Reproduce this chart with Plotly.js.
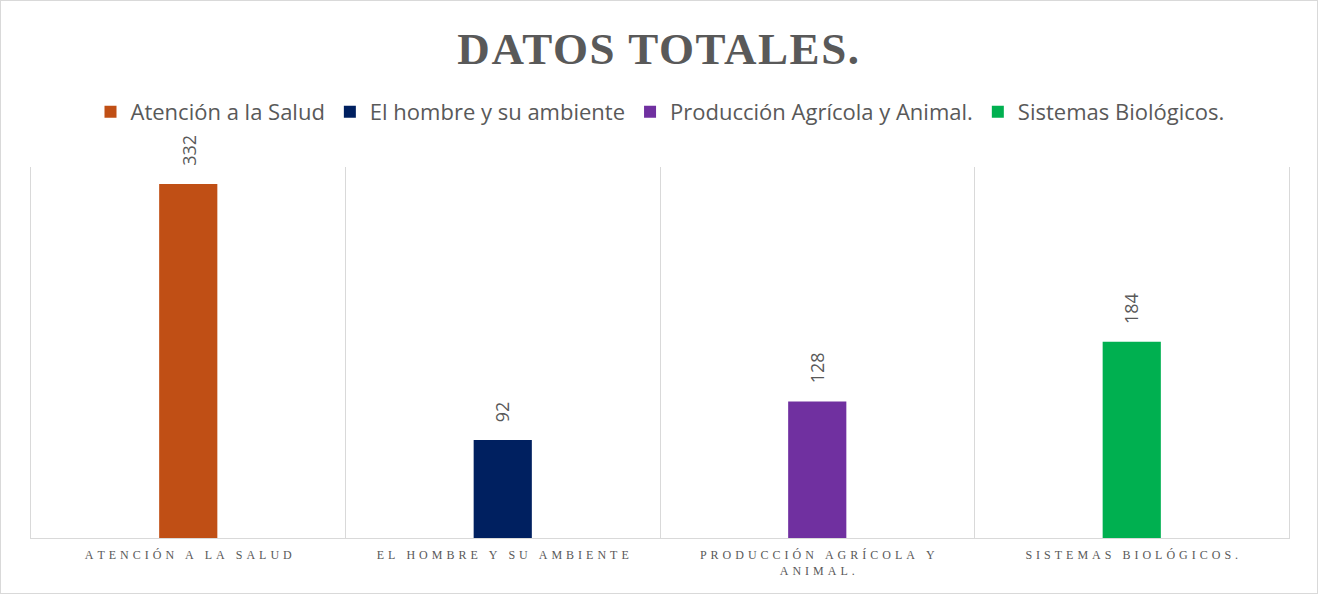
<!DOCTYPE html>
<html>
<head>
<meta charset="utf-8">
<script src="https://cdn.plot.ly/plotly-3.0.1.min.js"></script>
<style>
  html, body { margin: 0; padding: 0; background: #ffffff; }
  #wrap { position: relative; width: 1318px; height: 594px; }
  #chart { position: absolute; left: 0; top: 0; width: 1318px; height: 594px; }
  #frame { position: absolute; left: 0; top: 0; width: 1318px; height: 594px; box-sizing: border-box; border: 1px solid #d9d9d9; pointer-events: none; }
</style>
</head>
<body>
<div id="wrap"><div id="chart"></div><div id="frame"></div></div>
<script>
// ---- data ----
const categories = ["Atención a la Salud", "El hombre y su ambiente", "Producción Agrícola y Animal.", "Sistemas Biológicos."];
const values = [332, 92, 128, 184];
const tickLabels = ["ATENCIÓN A LA SALUD", "EL HOMBRE Y SU AMBIENTE", "PRODUCCIÓN AGRÍCOLA Y\nANIMAL.", "SISTEMAS BIOLÓGICOS."];
const colors = ["#C04F15", "#002060", "#7030A0", "#00B050"];
const chartTitle = "DATOS TOTALES.";

// letter-spaced text
function spaced(s, sep) {
  return s.split("\n").map(line => Array.from(line).join(sep)).join("<br>");
}

const traces = categories.map((c, i) => ({
  type: "bar",
  name: c,
  x: [c],
  y: [values[i]],
  width: 0.185,
  marker: { color: colors[i] },
  hoverinfo: "x+y"
}));

const annotations = categories.map((c, i) => ({
  x: c, y: values[i], xref: "x", yref: "y",
  text: String(values[i]),
  textangle: -90,
  showarrow: false,
  xanchor: "center", yanchor: "bottom",
  yshift: 16,
  font: { family: "Open Sans", size: 18, color: "#595959" }
}));

const H = 594, T = 167, B = 56;
const plotH = H - T - B;

const layout = {
  width: 1318, height: 594,
  margin: { l: 31, r: 29, t: T, b: B, pad: 0 },
  paper_bgcolor: "#ffffff", plot_bgcolor: "#ffffff",
  barmode: "overlay",
  title: {
    text: chartTitle,
    x: 0.5, xanchor: "center",
    y: 1 - 48 / H, yanchor: "middle", yref: "container",
    font: { family: "Liberation Serif", size: 45, weight: "bold", color: "#595959" }
  },
  showlegend: true,
  legend: {
    orientation: "h",
    x: 0.5, xanchor: "center",
    y: 1 + (T - 112) / plotH, yanchor: "middle",
    font: { family: "Open Sans", size: 22, color: "#595959" },
    traceorder: "normal"
  },
  xaxis: {
    type: "category",
    categoryorder: "array", categoryarray: categories,
    tickvals: categories,
    ticktext: tickLabels.map(s => spaced(s, "\u2004")),
    tickson: "boundaries",
    showgrid: true, gridcolor: "#d9d9d9", gridwidth: 1,
    showline: true, linecolor: "#d9d9d9", linewidth: 1,
    ticks: "", tickangle: 0,
    ticklabelstandoff: 6,
    tickfont: { family: "Liberation Serif", size: 12, color: "#595959" },
    range: [-0.5, 3.5],
    zeroline: false, fixedrange: true
  },
  yaxis: {
    range: [0, 348],
    showgrid: false, zeroline: false,
    showline: true, mirror: true, linecolor: "#d9d9d9", linewidth: 1,
    showticklabels: false, ticks: "", fixedrange: true
  },
  annotations: annotations
};

Plotly.newPlot("chart", traces, layout, { displayModeBar: false, staticPlot: true }).then(gd => {
  const t = gd.querySelector(".gtitle");
  if (t) { t.style.letterSpacing = "1.6px"; }
});
</script>
</body>
</html>
